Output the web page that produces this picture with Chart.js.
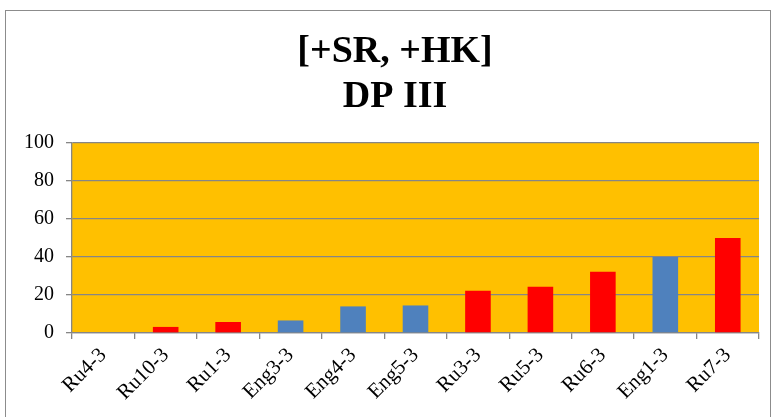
<!DOCTYPE html>
<html>
<head>
<meta charset="utf-8">
<script src="https://cdn.jsdelivr.net/npm/chart.js@4.4.0/dist/chart.umd.min.js"></script>
<style>
  html, body { margin:0; padding:0; background:#fff; }
  #wrap { width:773px; height:417px; position:relative; }
</style>
</head>
<body>
<div id="wrap"><canvas id="chart" width="773" height="417"></canvas></div>
<script>
// data
const labels = ["Ru4-3","Ru10-3","Ru1-3","Eng3-3","Eng4-3","Eng5-3","Ru3-3","Ru5-3","Ru6-3","Eng1-3","Ru7-3"];
const values = [0, 3.2, 5.8, 6.6, 14, 14.5, 22.2, 24.3, 32.2, 40, 50];
const titleLines = ["[+SR, +HK]", "DP III"];
const yTicks = [0, 20, 40, 60, 80, 100];

const RU_COLOR = "#FF0000";
const ENG_COLOR = "#4F81BD";
const barColors = labels.map(l => l.startsWith("Eng") ? ENG_COLOR : RU_COLOR);

// fill plot area, frame, title
const decor = {
  id: "decor",
  beforeDraw(chart){
    const { ctx, chartArea:a } = chart;
    ctx.save();
    ctx.fillStyle = "#FFC000";
    ctx.fillRect(a.left, a.top, a.right - a.left, a.bottom - a.top);
    ctx.restore();
  },
  afterDraw(chart){
    const ctx = chart.ctx;
    ctx.save();
    ctx.strokeStyle = "#8c8c8c";
    ctx.lineWidth = 1;
    ctx.strokeRect(5.5, 10.5, 765, 420);
    ctx.fillStyle = "#000";
    ctx.font = "bold 38px 'Liberation Serif'";
    ctx.textAlign = "center";
    ctx.textBaseline = "alphabetic";
    ctx.fillText(titleLines[0], 395, 62);
    ctx.fillText(titleLines[1], 395, 107);
    ctx.restore();
  }
};

new Chart(document.getElementById("chart"), {
  type: "bar",
  data: {
    labels,
    datasets: [{
      data: values,
      backgroundColor: barColors,
      borderWidth: 0,
      barPercentage: 0.41,
      categoryPercentage: 1
    }]
  },
  options: {
    responsive: false,
    animation: false,
    layout: { padding: { top: 143, left: 0, right: 14, bottom: 0 } },
    plugins: { legend: { display: false }, tooltip: { enabled: false }, title: { display: false } },
    scales: {
      x: {
        afterFit(s){ s.height = 84; },
        grid: { drawOnChartArea: false, drawTicks: true, tickLength: 6, color: "#868686", lineWidth: 1.3, offset: true },
        border: { color: "#868686", width: 1.3 },
        ticks: {
          color: "#000",
          font: { family: "'Liberation Serif'", size: 21 },
          minRotation: 45, maxRotation: 45, autoSkip: false, padding: 4
        }
      },
      y: {
        min: 0, max: 100,
        afterFit(s){ s.width = 72; },
        afterBuildTicks(s){ s.ticks = yTicks.map(v => ({ value: v })); },
        grid: { color: "#868686", lineWidth: 1.3, tickLength: 6, drawTicks: true },
        border: { color: "#868686", width: 1.3 },
        ticks: {
          color: "#000",
          font: { family: "'Liberation Serif'", size: 20 },
          padding: 12
        }
      }
    }
  },
  plugins: [decor]
});
</script>
</body>
</html>
